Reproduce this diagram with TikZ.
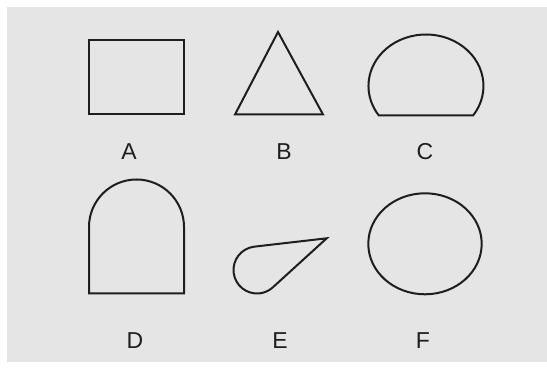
\documentclass[tikz,border=0pt]{standalone}
\usepackage{fontspec}
\setmainfont{Liberation Sans}
\definecolor{bggray}{RGB}{229,229,229}
\definecolor{ink}{RGB}{30,30,30}
\begin{document}
\begin{tikzpicture}[x=1pt,y=1pt,
  figline/.style={draw=ink,line width=2pt,line join=miter},
  lbl/.style={inner sep=0pt,text=ink,font=\fontsize{23}{27}\selectfont}]
\useasboundingbox (0,0) rectangle (547,369);
\fill[bggray] (7,7) rectangle (547,362);
% A rectangle
\draw[figline] (89,329) rectangle (184,255);
% B triangle
\draw[figline] (278,337) -- (323,254.5) -- (235,254.5) -- cycle;
% C cut ellipse
\draw[figline] (473.1,253.5) arc[start angle=-34.95,end angle=214.95,x radius=57.5,y radius=51.5] -- cycle;
% D arch
\draw[figline] (89,75.7) -- (89,142) arc[start angle=180,end angle=0,radius=47.5] -- (184,75.7) -- cycle;
% E teardrop
\coordinate (tip) at (326.7,130.7);
\draw[figline] (tip) -- (254.30,122.34) arc[start angle=96.59,end angle=312.33,radius=23.5] -- cycle;
% F ellipse
\draw[figline] (425,125.2) ellipse[x radius=56.7,y radius=50.5];
% labels
\node[lbl] (la) at (129,217) {A};
\node[lbl] (lb) at (284,217) {B};
\node[lbl] (lc) at (425,217) {C};
\node[lbl] (ld) at (135,28) {D};
\node[lbl] (le) at (280,28) {E};
\node[lbl] (lf) at (423,28) {F};
\end{tikzpicture}
\end{document}
